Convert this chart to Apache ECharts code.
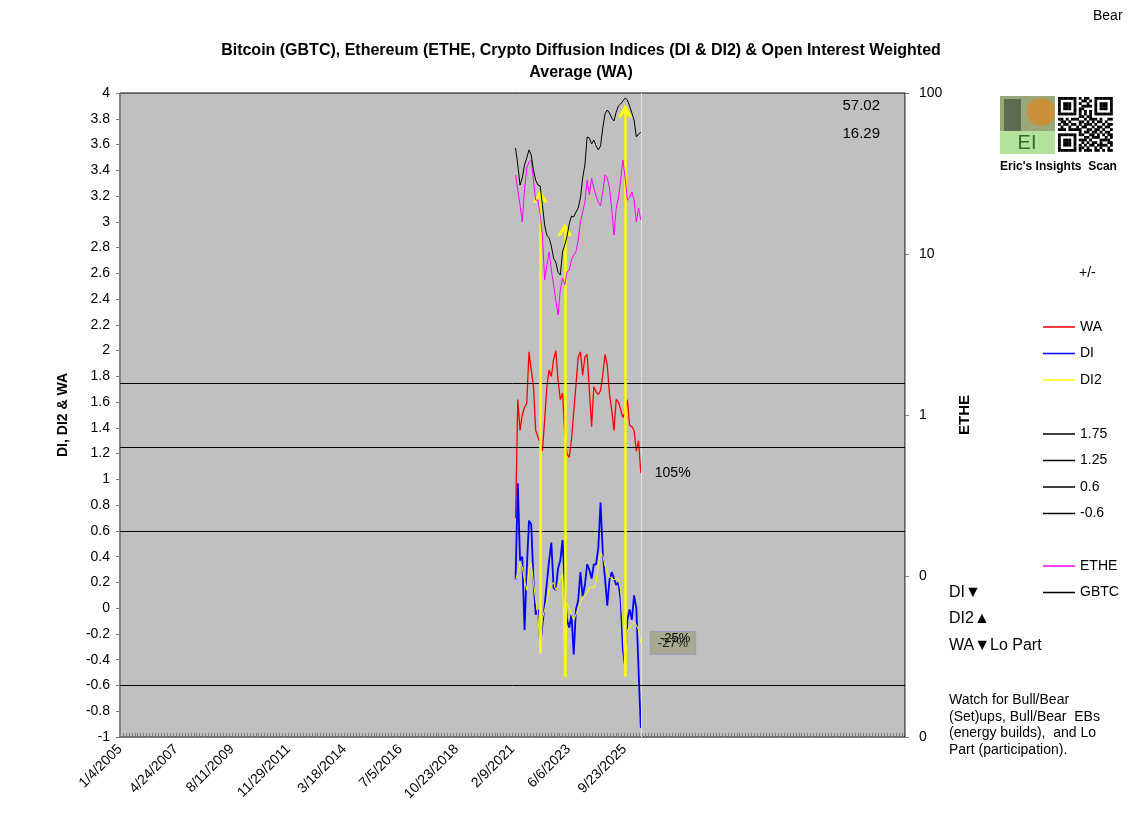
<!DOCTYPE html>
<html>
<head>
<meta charset="utf-8">
<title>Bitcoin, Ethereum, Crypto Diffusion Indices</title>
<script src="https://cdn.jsdelivr.net/npm/echarts@6/dist/echarts.min.js"></script>
<style>
    html, body { margin: 0; padding: 0; background: #fff; }
    #crypto_di { width: 1138px; height: 825px; }
</style>
</head>
<body>
<div id="crypto_di"></div>
<script>
// Chart data
// ------------------------------

// Date axis: one label every 840 days starting 1/4/2005
var tickLabels = ['1/4/2005', '4/24/2007', '8/11/2009', '11/29/2011', '3/18/2014',
                  '7/5/2016', '10/23/2018', '2/9/2021', '6/6/2023', '9/23/2025'];
var tickStepDays = 840;
var axisEndDay = 11760;

// Samples (days after 1/4/2005)
var firstSampleDay = 5926;
var sampleStepDays = 33.5;

// Right (log) axis
var gbtc = [45.5, 35.7, 26.8, 29.6, 35.7, 39.5, 44.3, 41.2, 33.2, 28.8, 26.8, 26.5, 20.2, 15.1, 13.1, 12.6,
            11.2, 9.4, 8.9, 7.7, 7.4, 10.3, 11.4, 12.9, 15.4, 17.2, 17.0, 18.2, 19.3, 22.3, 29.6, 35.7,
            53.3, 52.5, 48.2, 51.1, 46.9, 44.3, 46.9, 60.6, 74.1, 78.4, 75.1, 69.9, 67.0, 76.2, 83.0, 85.5,
            89.2, 93.1, 90.5, 83.0, 75.1, 68.0, 53.3, 55.6, 57.02];
var ethe = [31.0, 25.0, 20.2, 15.8, 25.0, 34.2, 37.3, 38.4, 28.8, 21.6, 21.6, 17.5, 13.1, 6.9, 8.55, 10.3,
            7.96, 6.42, 5.18, 4.18, 5.98, 7.10, 6.42, 7.73, 7.96, 9.18, 9.86, 10.3, 12.2, 15.8, 18.2, 21.0,
            28.8, 23.3, 29.6, 25.7, 22.9, 21.0, 19.9, 24.3, 31.0, 29.6, 25.7, 19.0, 13.1, 19.3, 22.3, 28.8,
            38.4, 29.6, 21.6, 22.3, 24.3, 21.6, 15.8, 19.3, 16.29];

// Left axis
var wa = [0.70, 1.62, 1.38, 1.50, 1.56, 1.59, 1.99, 1.85, 1.72, 1.38, 1.33, 1.28, 1.22, 1.46, 1.72, 1.85,
          1.80, 1.93, 2.00, 1.77, 1.62, 1.67, 1.36, 1.20, 1.17, 1.31, 1.52, 1.73, 1.95, 1.99, 1.81, 1.95,
          1.97, 1.69, 1.41, 1.72, 1.68, 1.66, 1.69, 1.81, 1.97, 1.89, 1.66, 1.54, 1.38, 1.62, 1.60, 1.54,
          1.48, 1.52, 1.62, 1.42, 1.41, 1.38, 1.22, 1.30, 1.05];
var di = [0.22, 0.97, 0.37, 0.40, -0.17, 0.30, 0.68, 0.65, 0.22, -0.05, -0.01, -0.29, -0.13, 0.02, 0.20, 0.37,
          0.51, 0.16, 0.14, 0.31, 0.37, 0.53, 0.18, -0.09, -0.15, -0.05, -0.36, -0.01, 0.06, 0.28, 0.09, 0.18,
          0.34, 0.30, 0.23, 0.34, 0.34, 0.47, 0.82, 0.43, 0.23, 0.02, 0.22, 0.28, 0.23, 0.18, 0.20, 0.06,
          -0.32, -0.46, -0.09, -0.01, -0.09, 0.10, 0.00, -0.48, -0.93];
var di2 = [0.22, 0.27, 0.35, 0.32, 0.22, 0.14, 0.31, 0.35, 0.20, 0.06, -0.05, -0.35, -0.08, -0.01, 0.06, 0.14,
           0.18, 0.20, 0.14, 0.18, 0.22, 0.26, -0.53, 0.04, 0.00, -0.05, -0.09, -0.05, 0.00, 0.04, 0.09, 0.10,
           0.12, 0.16, 0.16, 0.16, 0.20, 0.33, 0.43, 0.41, 0.33, 0.27, 0.24, 0.23, 0.22, 0.23, 0.22, 0.14,
           -0.13, -0.53, -0.17, -0.15, -0.13, -0.11, -0.13, -0.17, -0.27];

// Threshold lines
var levels = [1.75, 1.25, 0.6, -0.6];

// Yellow signal arrows (sample index, from, to on left axis)
var arrowAt = [11, 22, 49];
var arrowFrom = [-0.35, -0.53, -0.53];
var arrowTo = [3.20, 2.94, 3.86];

// Logo QR pattern
var qrRows = [
    '111111101011001111111', '100000100110101000001', '101110101001001011101',
    '101110100111101011101', '101110101100001011101', '100000101010101000001',
    '111111101010101111111', '000000001101100000000', '110101110010111010011',
    '011010001101010110100', '101101101011101001011', '010010010110010110110',
    '111011111001101101001', '000000001011011010110', '111111101100110101011',
    '100000100011011100101', '101110101110100011110', '101110100101011010011',
    '101110101010110111101', '100000101101001010010', '111111101011101101011'
];


// Setup module
// ------------------------------

var EchartsCryptoDiffusion = function() {

    var _cryptoDiffusionChart = function() {
        if (typeof echarts == 'undefined') {
            console.warn('Warning - echarts.min.js is not loaded.');
            return;
        }

        var chart_element = document.getElementById('crypto_di');
        if (!chart_element) {
            return;
        }

        var chart = echarts.init(chart_element, null, { renderer: 'canvas' });
        var fontFamily = "'Liberation Sans', Arial, sans-serif";

        // Sample day helpers
        var sampleDay = function(i) {
            return firstSampleDay + i * sampleStepDays;
        };
        var pairs = function(values) {
            return values.map(function(v, i) {
                return [sampleDay(i), v];
            });
        };
        var lastDay = sampleDay(gbtc.length - 1);

        // Arrow symbol (open chevron)
        var chevron = 'path://M0,10 L5,0 L10,10 L7.6,10 L5,4.6 L2.4,10 Z';

        var arrowLines = arrowAt.map(function(idx, k) {
            return [
                { coord: [sampleDay(idx), arrowFrom[k]], symbol: 'none' },
                { coord: [sampleDay(idx), arrowTo[k]], symbol: chevron, symbolSize: [15, 13] }
            ];
        });

        // Threshold series
        var levelSeries = levels.map(function(level) {
            return {
                name: String(level),
                type: 'line',
                data: [],
                itemStyle: { color: '#000' },
                lineStyle: { color: '#000' },
                markLine: {
                    silent: true,
                    symbol: 'none',
                    label: { show: false },
                    lineStyle: { color: '#000', width: 1, type: 'solid' },
                    data: [{ yAxis: level }]
                },
                z: 1
            };
        });

        // QR graphic
        var qrCells = [];
        var qrSize = 2.6;
        qrRows.forEach(function(row, r) {
            for (var c = 0; c < row.length; c++) {
                if (row.charAt(c) === '1') {
                    qrCells.push({
                        type: 'rect',
                        shape: { x: 1058 + c * qrSize, y: 97 + r * qrSize, width: qrSize + 0.2, height: qrSize + 0.2 },
                        style: { fill: '#000' }
                    });
                }
            }
        });

        var legendBase = {
            orient: 'vertical',
            left: 1043,
            icon: 'rect',
            itemWidth: 32,
            itemHeight: 1.5,
            itemGap: 12.5,
            padding: 0,
            selectedMode: false,
            textStyle: { fontSize: 14, color: '#000', fontFamily: fontFamily, lineHeight: 14 }
        };

        var textEl = function(x, y, text, size, extra) {
            var style = {
                text: text,
                x: x,
                y: y,
                fill: '#000',
                font: (extra && extra.bold ? 'bold ' : '') + size + 'px ' + fontFamily,
                textAlign: (extra && extra.align) || 'left',
                textVerticalAlign: 'middle'
            };
            if (extra && extra.lineHeight) {
                style.lineHeight = extra.lineHeight;
                style.textVerticalAlign = 'top';
            }
            return { type: 'text', style: style, z: 100 };
        };

        chart.setOption({
            animation: false,
            backgroundColor: '#fff',
            textStyle: { fontFamily: fontFamily },

            title: {
                text: 'Bitcoin (GBTC), Ethereum (ETHE, Crypto Diffusion Indices (DI & DI2) & Open Interest Weighted\nAverage (WA)',
                left: 576,
                top: 35,
                textAlign: 'center',
                textStyle: { fontSize: 16, fontWeight: 'bold', color: '#000', lineHeight: 22, fontFamily: fontFamily }
            },

            grid: {
                left: 120,
                right: 233,
                top: 93,
                bottom: 88,
                show: true,
                backgroundColor: '#c0c0c0',
                borderColor: '#000',
                borderWidth: 1
            },

            legend: [
                Object.assign({}, legendBase, { top: 320, data: ['WA', 'DI', 'DI2'] }),
                Object.assign({}, legendBase, { top: 427, data: levels.map(String) }),
                Object.assign({}, legendBase, { top: 559, data: ['ETHE', 'GBTC'] })
            ],

            xAxis: {
                type: 'value',
                min: 0,
                max: axisEndDay,
                interval: tickStepDays,
                axisLine: { onZero: false, lineStyle: { color: '#808080' } },
                axisTick: { show: true, inside: true, length: 4, lineStyle: { color: '#808080' } },
                minorTick: { show: true, splitNumber: 19, length: 4, lineStyle: { color: '#808080' } },
                splitLine: { show: false },
                axisLabel: {
                    rotate: 45,
                    margin: 10,
                    fontSize: 14,
                    color: '#000',
                    formatter: function(v) {
                        var i = Math.round(v / tickStepDays);
                        if (Math.abs(v - i * tickStepDays) > 1 || i >= tickLabels.length) {
                            return '';
                        }
                        return tickLabels[i];
                    }
                }
            },

            yAxis: [
                {
                    type: 'value',
                    min: -1,
                    max: 4,
                    interval: 0.2,
                    name: 'DI, DI2 & WA',
                    nameLocation: 'middle',
                    nameRotate: 90,
                    nameGap: 50,
                    nameTextStyle: { fontSize: 14, fontWeight: 'bold', color: '#000' },
                    axisLine: { show: true, lineStyle: { color: '#808080' } },
                    axisTick: { show: true, length: 4, lineStyle: { color: '#808080' } },
                    splitLine: { show: false },
                    axisLabel: {
                        fontSize: 14,
                        color: '#000',
                        margin: 10,
                        formatter: function(v) {
                            return String(Math.round(v * 10) / 10);
                        }
                    }
                },
                {
                    type: 'log',
                    logBase: 10,
                    min: 0.01,
                    max: 100,
                    position: 'right',
                    name: 'ETHE',
                    nameLocation: 'middle',
                    nameRotate: 90,
                    nameGap: 52,
                    nameTextStyle: { fontSize: 15, fontWeight: 'bold', color: '#000' },
                    axisLine: { show: true, lineStyle: { color: '#a0a0a0' } },
                    axisTick: { show: true, length: 4, lineStyle: { color: '#808080' } },
                    splitLine: { show: false },
                    axisLabel: {
                        fontSize: 14,
                        color: '#000',
                        margin: 14,
                        formatter: function(v) {
                            return String(Math.round(v));
                        }
                    }
                }
            ],

            graphic: [
                textEl(1093, 16, 'Bear', 14),
                textEl(880, 106, gbtc[gbtc.length - 1].toFixed(2), 15, { align: 'right' }),
                textEl(880, 134, ethe[ethe.length - 1].toFixed(2), 15, { align: 'right' }),
                textEl(1079, 273, '+/-', 14),
                textEl(949, 593, 'DI\u25BC', 16),
                textEl(949, 619, 'DI2\u25B2', 16),
                textEl(949, 646, 'WA\u25BCLo Part', 16),
                textEl(949, 692, 'Watch for Bull/Bear\n(Set)ups, Bull/Bear  EBs\n(energy builds),  and Lo\nPart (participation).', 14, { lineHeight: 16.5 }),
                textEl(660, 638, '-25%', 13),
                // Logo
                { type: 'rect', shape: { x: 1000, y: 96, width: 55, height: 58 }, style: { fill: '#98a878' } },
                { type: 'circle', shape: { cx: 1041, cy: 112, r: 14 }, style: { fill: '#c98f3b' } },
                { type: 'rect', shape: { x: 1004, y: 99, width: 17, height: 32 }, style: { fill: '#5f6a52' } },
                { type: 'rect', shape: { x: 1000, y: 131, width: 55, height: 23 }, style: { fill: '#b4e29a' } },
                { type: 'text', style: { text: 'EI', x: 1027, y: 143, fill: '#2f6a30', font: '20px ' + fontFamily, textAlign: 'center', textVerticalAlign: 'middle' } },
                { type: 'group', children: qrCells },
                { type: 'text', style: { text: "Eric's Insights  Scan", x: 1000, y: 167, fill: '#000', font: "bold 12px 'Liberation Sans Narrow', " + fontFamily, textVerticalAlign: 'middle' } }
            ],

            series: [
                // Last sample marker
                {
                    name: 'edge',
                    type: 'line',
                    data: [],
                    markLine: {
                        silent: true,
                        symbol: 'none',
                        label: { show: false },
                        lineStyle: { color: '#e2e2e2', width: 1, type: 'solid' },
                        data: [{ xAxis: lastDay }]
                    },
                    z: 1
                }
            ].concat(levelSeries).concat([
                {
                    name: 'WA',
                    type: 'line',
                    data: pairs(wa),
                    showSymbol: false,
                    itemStyle: { color: '#ff0000' },
                    lineStyle: { color: '#ff0000', width: 1.3 },
                    endLabel: {
                        show: true,
                        distance: 14,
                        fontSize: 14,
                        color: '#000',
                        formatter: function() {
                            return Math.round(wa[wa.length - 1] * 100) + '%';
                        }
                    },
                    z: 3
                },
                {
                    name: 'DI',
                    type: 'line',
                    data: pairs(di),
                    showSymbol: false,
                    itemStyle: { color: '#0000ff' },
                    lineStyle: { color: '#0000ff', width: 1.8 },
                    z: 4
                },
                {
                    name: 'DI2',
                    type: 'line',
                    data: pairs(di2),
                    showSymbol: false,
                    itemStyle: { color: '#ffff00' },
                    lineStyle: { color: '#ffff00', width: 1 },
                    endLabel: {
                        show: true,
                        distance: 10,
                        fontSize: 13,
                        color: '#222',
                        backgroundColor: '#a9a98f',
                        borderColor: '#9a9ac6',
                        borderWidth: 1,
                        padding: [5, 7, 4, 7],
                        formatter: function() {
                            return Math.round(di2[di2.length - 1] * 100) + '%';
                        }
                    },
                    z: 5
                },
                {
                    name: 'ETHE',
                    type: 'line',
                    yAxisIndex: 1,
                    data: pairs(ethe),
                    showSymbol: false,
                    itemStyle: { color: '#ff00ff' },
                    lineStyle: { color: '#ff00ff', width: 1 },
                    z: 6
                },
                {
                    name: 'GBTC',
                    type: 'line',
                    yAxisIndex: 1,
                    data: pairs(gbtc),
                    showSymbol: false,
                    itemStyle: { color: '#000' },
                    lineStyle: { color: '#000', width: 1 },
                    z: 7
                },
                // Signal arrows
                {
                    name: 'arrows',
                    type: 'line',
                    data: [],
                    markLine: {
                        silent: true,
                        symbol: 'none',
                        label: { show: false },
                        lineStyle: { color: '#ffff00', width: 2.5, type: 'solid' },
                        data: arrowLines
                    },
                    z: 8
                }
            ])
        });
    };

    return {
        init: function() {
            _cryptoDiffusionChart();
        }
    };
}();


// Initialize module
// ------------------------------

document.addEventListener('DOMContentLoaded', function() {
    EchartsCryptoDiffusion.init();
});
</script>
</body>
</html>
